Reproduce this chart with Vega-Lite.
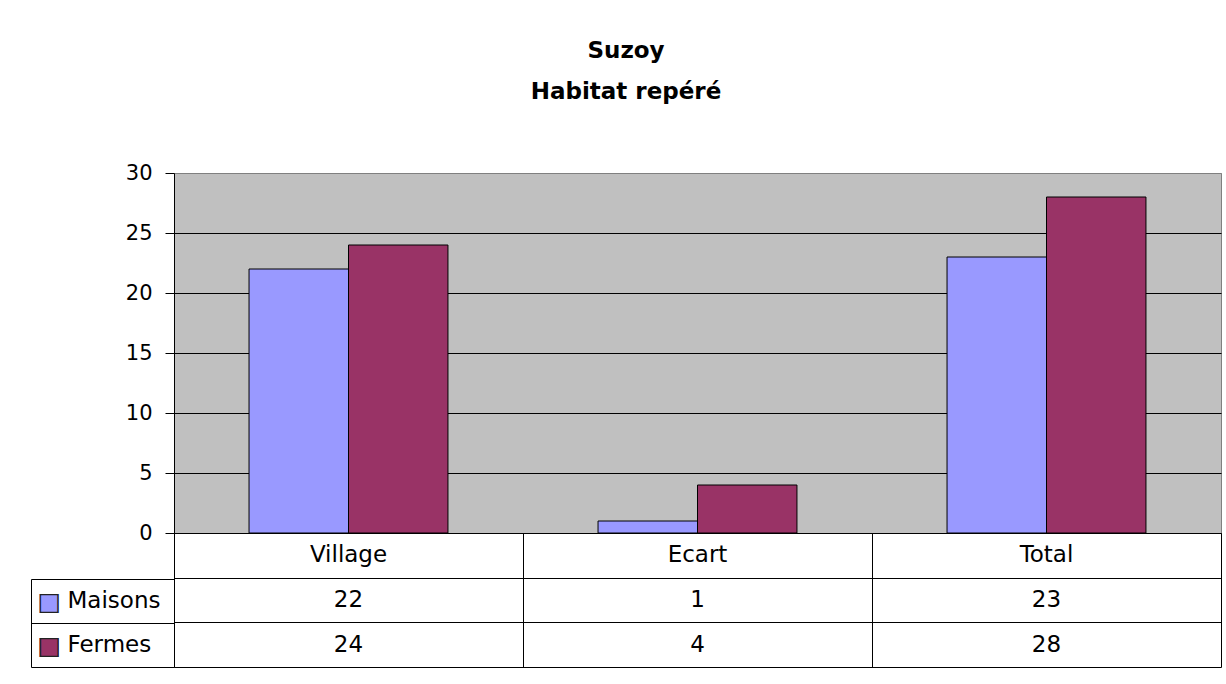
{
  "$schema": "https://vega.github.io/schema/vega-lite/v6.json",
  "padding": {"left": 30, "top": 39, "right": 5, "bottom": 10},
  "background": "white",
  "config": {"font": "DejaVu Sans"},
  "title": {
    "text": ["Suzoy", "Habitat repéré"],
    "font": "DejaVu Sans",
    "fontSize": 23,
    "fontWeight": "bold",
    "color": "black",
    "lineHeight": 41,
    "anchor": "middle",
    "offset": 58
  },
  "datasets": {
    "main": [
      {"cat": "Village", "serie": "Maisons", "value": 22},
      {"cat": "Village", "serie": "Fermes", "value": 24},
      {"cat": "Ecart", "serie": "Maisons", "value": 1},
      {"cat": "Ecart", "serie": "Fermes", "value": 4},
      {"cat": "Total", "serie": "Maisons", "value": 23},
      {"cat": "Total", "serie": "Fermes", "value": 28}
    ],
    "heads": [
      {"cat": "Village", "row": "head"},
      {"cat": "Ecart", "row": "head"},
      {"cat": "Total", "row": "head"}
    ],
    "legend": [
      {"row": "Maisons"},
      {"row": "Fermes"}
    ]
  },
  "vconcat": [
    {
      "width": 1047,
      "height": 360,
      "view": {"fill": "#c0c0c0", "stroke": "#808080", "strokeWidth": 1},
      "data": {"name": "main"},
      "mark": {"type": "bar", "stroke": "black", "strokeWidth": 1},
      "encoding": {
        "x": {
          "field": "cat", "type": "nominal", "sort": ["Village", "Ecart", "Total"],
          "scale": {"paddingInner": 0.43, "paddingOuter": 0.215},
          "axis": null
        },
        "xOffset": {
          "field": "serie", "type": "nominal", "sort": ["Maisons", "Fermes"],
          "scale": {"paddingInner": 0, "paddingOuter": 0}
        },
        "y": {
          "field": "value", "type": "quantitative",
          "scale": {"domain": [0, 30], "nice": false},
          "axis": {
            "values": [0, 5, 10, 15, 20, 25, 30],
            "title": null,
            "grid": true,
            "gridColor": {"condition": {"test": "datum.value == 30", "value": "#808080"}, "value": "black"},
            "gridOpacity": 1,
            "domainColor": "black",
            "tickColor": "black",
            "tickSize": 9,
            "labelFont": "DejaVu Sans",
            "labelFontSize": 21,
            "labelColor": "black",
            "labelPadding": 13
          }
        },
        "color": {
          "field": "serie", "type": "nominal",
          "scale": {"domain": ["Maisons", "Fermes"], "range": ["#9999ff", "#993366"]},
          "legend": null
        }
      }
    },
    {
      "width": 1047,
      "height": 134,
      "view": {"stroke": null},
      "resolve": {"scale": {"y": "independent"}},
      "layer": [
        {
          "data": {"name": "main"},
          "mark": {"type": "text", "fontSize": 23, "color": "black", "align": "center", "baseline": "middle"},
          "encoding": {
            "x": {
              "field": "cat", "type": "nominal", "sort": ["Village", "Ecart", "Total"],
              "scale": {"paddingInner": 0, "paddingOuter": 0},
              "axis": {
                "orient": "bottom", "tickBand": "extent", "grid": true, "gridColor": "black", "gridOpacity": 1,
                "labels": false, "ticks": false, "domain": false, "title": null
              }
            },
            "y": {
              "field": "serie", "type": "nominal",
              "scale": {"domain": ["head", "Maisons", "Fermes"], "paddingInner": 0, "paddingOuter": 0},
              "axis": {
                "orient": "left", "tickBand": "extent", "grid": true, "gridColor": "black", "gridOpacity": 1,
                "ticks": false,
                "domainColor": "black",
                "labelExpr": "datum.value === 'head' ? '' : datum.value",
                "labelAlign": "left", "labelPadding": 107,
                "labelFont": "DejaVu Sans", "labelFontSize": 23, "labelColor": "black",
                "title": null
              }
            },
            "text": {"field": "value", "type": "quantitative"}
          }
        },
        {
          "data": {"name": "heads"},
          "mark": {"type": "text", "fontSize": 23, "color": "black", "align": "center", "baseline": "middle"},
          "encoding": {
            "x": {"field": "cat", "type": "nominal", "sort": ["Village", "Ecart", "Total"]},
            "y": {
              "field": "row", "type": "nominal",
              "scale": {"domain": ["head", "Maisons", "Fermes"], "paddingInner": 0, "paddingOuter": 0},
              "axis": null
            },
            "text": {"field": "cat", "type": "nominal"}
          }
        },
        {
          "data": {"name": "legend"},
          "mark": {"type": "text", "text": ""},
          "encoding": {
            "y": {
              "field": "row", "type": "nominal",
              "scale": {"domain": ["Maisons", "Fermes"], "range": [46, 134], "paddingInner": 0, "paddingOuter": 0},
              "axis": {
                "orient": "left", "offset": 143, "title": null,
                "tickBand": "extent", "ticks": true, "tickSize": -143, "tickColor": "black",
                "domain": true, "domainColor": "black",
                "labels": false
              }
            }
          }
        },
        {
          "data": {"name": "legend"},
          "mark": {"type": "text", "text": ""},
          "encoding": {
            "y": {
              "field": "row", "type": "nominal",
              "scale": {"domain": ["Maisons", "Fermes"], "range": [46, 134], "paddingInner": 0, "paddingOuter": 0},
              "axis": {
                "orient": "left", "offset": 143, "title": null,
                "ticks": false, "domain": false,
                "labelExpr": "'■'",
                "labelFont": "DejaVu Sans", "labelFontSize": 25,
                "labelColor": {"condition": {"test": "datum.value === 'Maisons'", "value": "#9999ff"}, "value": "#993366"},
                "labelAlign": "left", "labelPadding": -6
              }
            }
          }
        },
        {
          "data": {"name": "legend"},
          "mark": {"type": "text", "text": ""},
          "encoding": {
            "y": {
              "field": "row", "type": "nominal",
              "scale": {"domain": ["Maisons", "Fermes"], "range": [46, 134], "paddingInner": 0, "paddingOuter": 0},
              "axis": {
                "orient": "left", "offset": 143, "title": null,
                "ticks": false, "domain": false,
                "labelExpr": "'□'",
                "labelFont": "DejaVu Sans", "labelFontSize": 25,
                "labelColor": "#222222",
                "labelAlign": "left", "labelPadding": -6
              }
            }
          }
        }
      ]
    }
  ],
  "spacing": 0,
  "bounds": "flush"
}
